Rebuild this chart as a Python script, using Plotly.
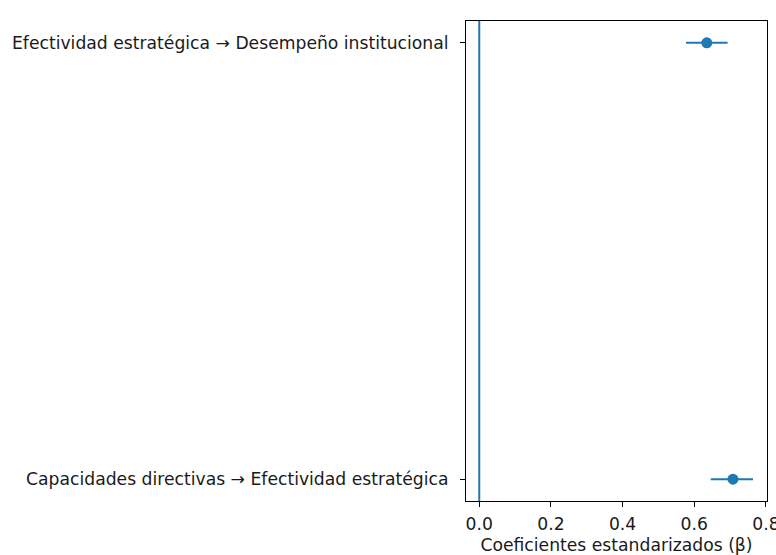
import plotly.graph_objects as go

paths = ["Capacidades directivas → Efectividad estratégica",
         "Efectividad estratégica → Desempeño institucional"]
beta = [0.708, 0.635]
ci_low = [0.646, 0.577]
ci_high = [0.764, 0.693]
xticks = [0.0, 0.2, 0.4, 0.6, 0.8]

ypos = list(range(len(paths)))
err_plus = [h - b for h, b in zip(ci_high, beta)]
err_minus = [b - l for b, l in zip(beta, ci_low)]

blue = "#1f77b4"
font = dict(family="DejaVu Sans", size=17.2, color="#1a1a1a")

fig = go.Figure()
fig.add_trace(go.Scatter(
    x=beta, y=ypos, mode="markers",
    marker=dict(color=blue, size=11),
    error_x=dict(type="data", array=err_plus, arrayminus=err_minus,
                 color=blue, thickness=2, width=0),
    showlegend=False,
))
fig.add_shape(type="line", xref="x", yref="paper", x0=0, x1=0, y0=0, y1=1,
              line=dict(color=blue, width=2))

axis_common = dict(showline=True, mirror=True, linecolor="black", linewidth=1,
                   ticks="outside", ticklen=5, tickwidth=1, tickcolor="black",
                   showgrid=False, zeroline=False, tickfont=font, automargin=False)
fig.update_xaxes(range=[-0.037, 0.803], tickvals=xticks,
                 ticktext=[f"{v:.1f}" for v in xticks],
                 ticklabeloverflow="allow", ticklabelstandoff=2,
                 title=dict(text="Coeficientes estandarizados (β)", font=font, standoff=6),
                 **axis_common)
fig.update_yaxes(range=[-0.05, 1.05], tickvals=ypos, ticktext=paths,
                 ticklabelstandoff=8, **axis_common)

fig.update_layout(width=776, height=555, plot_bgcolor="white", paper_bgcolor="white",
                  margin=dict(l=466, r=9, t=21, b=54, pad=0), font=font)
fig.write_html("out.html", config={"displayModeBar": False},
               post_script="document.body.style.margin='0';document.body.style.overflow='hidden';")
